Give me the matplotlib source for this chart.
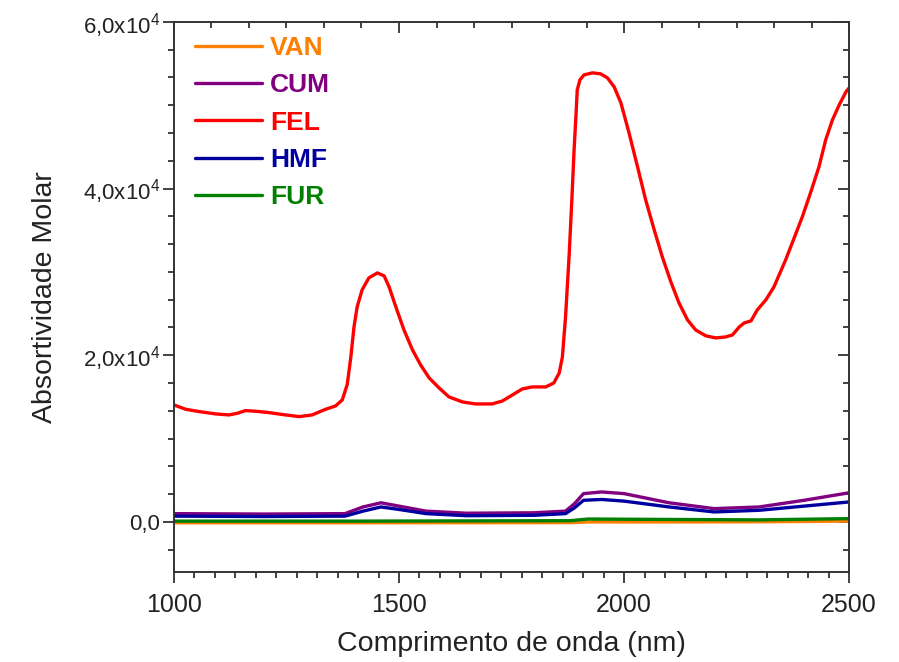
import matplotlib
matplotlib.use("Agg")
import matplotlib.pyplot as plt
from matplotlib.ticker import MultipleLocator, FuncFormatter, FixedLocator

plt.rcParams["font.family"] = ["Liberation Sans", "DejaVu Sans"]
plt.rcParams["mathtext.default"] = "regular"

# --------------------------------
# data
# --------------------------------
fel_x = [1000, 1026, 1056, 1093, 1122, 1141, 1159, 1182, 1211, 1248, 1278, 1307,
         1337, 1359, 1374, 1385, 1393, 1400, 1407, 1418, 1433, 1452, 1467, 1478,
         1493, 1511, 1530, 1548, 1567, 1589, 1611, 1641, 1670, 1707, 1730, 1752,
         1774, 1796, 1826, 1844, 1856, 1863, 1870, 1878, 1884, 1889, 1893, 1896,
         1902, 1911, 1930, 1948, 1963, 1978, 1993, 2011, 2030, 2048, 2067, 2085,
         2104, 2122, 2141, 2159, 2182, 2204, 2226, 2241, 2256, 2267, 2282, 2296,
         2315, 2333, 2359, 2378, 2396, 2415, 2433, 2448, 2463, 2478, 2493, 2500]
fel_y = [14040, 13520, 13240, 12960, 12840, 13040, 13360, 13280, 13120, 12840, 12640, 12840,
         13520, 13920, 14640, 16500, 19800, 23400, 25800, 27840, 29280, 29880, 29520, 28200,
         25800, 23040, 20640, 18840, 17280, 16080, 15000, 14400, 14160, 14160, 14520, 15240,
         15960, 16200, 16200, 16680, 17880, 19800, 24600, 32000, 38640, 44640, 48600, 51840,
         53040, 53640, 53880, 53760, 53280, 52200, 50280, 46680, 42600, 38640, 35040, 31800,
         28800, 26280, 24240, 23040, 22320, 22080, 22200, 22440, 23400, 23880, 24120, 25440,
         26640, 28200, 31440, 34080, 36600, 39600, 42600, 45840, 48240, 50040, 51600, 52080]

low_x = [1000, 1200, 1380, 1420, 1460, 1500, 1560, 1650, 1800, 1870, 1890, 1910,
         1950, 2000, 2100, 2200, 2300, 2400, 2500]
cum_y = [1000, 950, 1000, 1800, 2300, 1900, 1300, 1050, 1100, 1300, 2200, 3400,
         3600, 3400, 2300, 1600, 1800, 2600, 3500]
hmf_y = [700, 650, 700, 1300, 1800, 1500, 1000, 750, 800, 1000, 1700, 2600,
         2700, 2500, 1800, 1200, 1400, 1900, 2400]

fur_x = [1000, 1400, 1880, 1920, 2100, 2300, 2500]
fur_y = [100, 100, 150, 350, 300, 250, 400]
van_x = [1000, 1400, 1880, 1920, 2100, 2300, 2500]
van_y = [-100, -100, -80, 0, 0, 20, 100]

# --------------------------------
# plot
# --------------------------------
fig = plt.figure(figsize=(8.99, 6.62), dpi=100)
ax = fig.add_axes([0.1935, 0.136, 0.751, 0.831])

lw = 2.4
kw = dict(lw=lw, solid_joinstyle="round", solid_capstyle="round")
ax.plot(van_x, van_y, color="#FF8000", label="VAN", **kw)
ax.plot(low_x, cum_y, color="#800080", label="CUM", **kw)
ax.plot(fel_x, fel_y, color="#FF0000", label="FEL", **kw)
ax.plot(low_x, hmf_y, color="#0000A0", label="HMF", **kw)
ax.plot(fur_x, fur_y, color="#008000", label="FUR", **kw)

ax.set_xlim(1000, 2500)
ax.set_ylim(-6000, 60000)

ink = "#333333"
for s in ax.spines.values():
    s.set_linewidth(1.4)
    s.set_color(ink)

ax.xaxis.set_major_locator(FixedLocator([1000, 1500, 2000, 2500]))
ax.xaxis.set_minor_locator(MultipleLocator(500 / 11))
ax.yaxis.set_major_locator(FixedLocator([0, 20000, 40000, 60000]))
ax.yaxis.set_minor_locator(MultipleLocator(20000 / 6))


def yfmt(v, pos):
    if v == 0:
        return "0,0"
    return f"{v / 1e4:.1f}".replace(".", ",") + "x10$^{4}$"


ax.yaxis.set_major_formatter(FuncFormatter(yfmt))
ax.tick_params(which="both", direction="out", colors=ink, labelcolor="#222222", width=1.3)
ax.tick_params(which="major", length=8)
ax.tick_params(which="minor", length=4.5)
ax.tick_params(axis="x", pad=7, labelsize=18)
ax.tick_params(axis="y", pad=2, labelsize=16)

top = ax.secondary_xaxis("top")
top.xaxis.set_major_locator(FixedLocator([1000, 1500, 2000, 2500]))
top.xaxis.set_minor_locator(MultipleLocator(500 / 6))
top.tick_params(which="both", direction="in", labeltop=False, colors=ink, width=1.3)
top.tick_params(which="major", length=8)
top.tick_params(which="minor", length=4.5)
top.spines["top"].set_visible(False)

right = ax.secondary_yaxis("right")
right.yaxis.set_major_locator(FixedLocator([0, 20000, 40000, 60000]))
right.yaxis.set_minor_locator(MultipleLocator(20000 / 6))
right.tick_params(which="both", direction="in", labelright=False, colors=ink, width=1.3)
right.tick_params(which="major", length=8)
right.tick_params(which="minor", length=4.5)
right.spines["right"].set_visible(False)

ax.set_xlabel("Comprimento de onda (nm)", fontsize=20.5, color="#222222", labelpad=10)
ax.set_ylabel("Absortividade Molar", fontsize=20.5, color="#222222", labelpad=18)

leg = ax.legend(loc="upper left", bbox_to_anchor=(0.0154, 0.993), borderaxespad=0,
                frameon=False, handlelength=2.55, handletextpad=0.3, labelspacing=0.5,
                labelcolor="linecolor", prop={"weight": "bold", "size": 19})

fig.savefig("out.png", dpi=100)
